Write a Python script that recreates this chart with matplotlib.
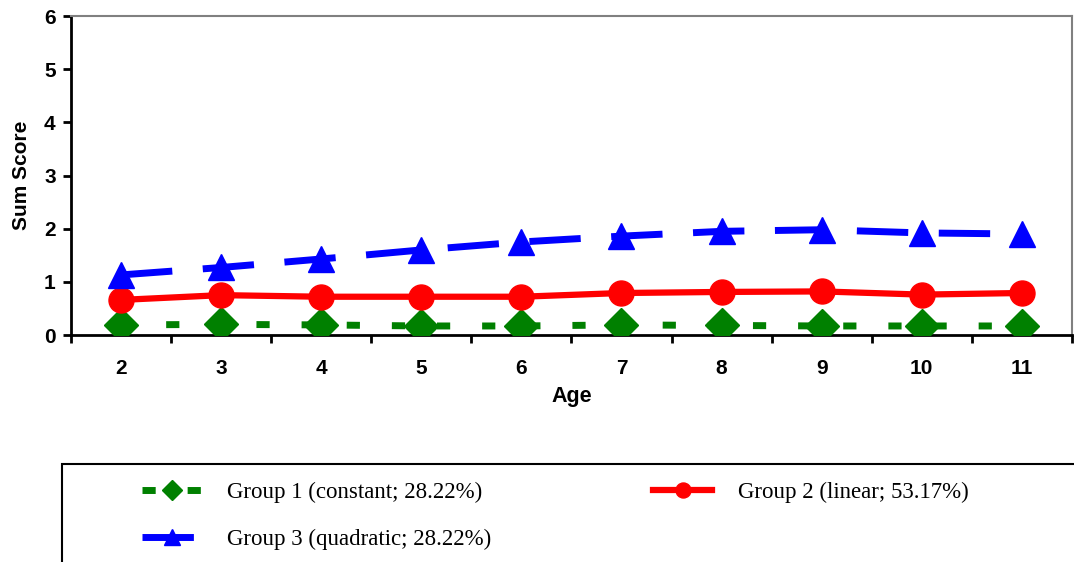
import matplotlib.pyplot as plt
import numpy as np
from matplotlib.patches import Rectangle

plt.rcParams['lines.scale_dashes'] = False
plt.rcParams['font.family'] = 'Liberation Sans'
plt.rcParams['font.weight'] = 'bold'
plt.rcParams['axes.labelweight'] = 'bold'

ages = [2, 3, 4, 5, 6, 7, 8, 9, 10, 11]
group1 = [0.19, 0.20, 0.19, 0.17, 0.17, 0.19, 0.18, 0.17, 0.17, 0.17]
group2 = [0.66, 0.75, 0.72, 0.72, 0.72, 0.79, 0.81, 0.82, 0.76, 0.79]
group3 = [1.13, 1.27, 1.43, 1.60, 1.75, 1.86, 1.95, 1.98, 1.92, 1.90]

labels = ['Group 1 (constant; 28.22%)',
          'Group 2 (linear; 53.17%)',
          'Group 3 (quadratic; 28.22%)']

fig = plt.figure(figsize=(10.74, 5.62), dpi=100)
ax = fig.add_axes([0.0661, 0.4039, 0.9319, 0.5676])

l1, = ax.plot(ages, group1, color='#008000', lw=5, dashes=(9.5, 23),
              marker='D', markersize=17, label=labels[0], zorder=3)
l2, = ax.plot(ages, group2, color='#ff0000', lw=4.5,
              marker='o', markersize=18, label=labels[1], zorder=4)
l3, = ax.plot(ages, group3, color='#0000ff', lw=5, dashes=(37, 22),
              marker='^', markersize=19, label=labels[2], zorder=5)

ax.set_xlim(1.5, 11.5)
ax.set_ylim(0, 6)
ax.set_xticks(ages)
ax.set_xticklabels([str(a) for a in ages])
ax.set_xticks(np.arange(1.5, 12, 1), minor=True)
ax.tick_params(axis='x', which='major', length=0, pad=17, labelsize=15)
ax.tick_params(axis='x', which='minor', length=6, width=2, direction='out')
ax.set_yticks(range(7))
ax.tick_params(axis='y', length=6, width=2, direction='out', pad=5, labelsize=15)

for s in ['left', 'bottom']:
    ax.spines[s].set_linewidth(2)
    ax.spines[s].set_color('black')
for s in ['top', 'right']:
    ax.spines[s].set_linewidth(1.5)
    ax.spines[s].set_color('#808080')

ax.set_xlabel('Age', fontsize=15.5, labelpad=6)
ax.set_ylabel('Sum Score', fontsize=15, labelpad=9)

# legend box runs off the right and bottom edges like the original
fig.patches.append(Rectangle((0.0577, -0.2), 1.0, 0.3744, transform=fig.transFigure,
                             fill=False, edgecolor='black', lw=1.5))

leg = fig.legend(handles=[l1, l3, l2], loc='upper left',
                 bbox_to_anchor=(0.1322, 0.142), ncol=2, frameon=False,
                 borderaxespad=0, borderpad=0,
                 handlelength=2.6, handletextpad=1.1, columnspacing=7.06,
                 markerscale=0.6, labelspacing=1.1,
                 prop={'family': 'Liberation Serif', 'size': 16.5, 'weight': 'normal'})

fig.savefig('out.png', dpi=100)
